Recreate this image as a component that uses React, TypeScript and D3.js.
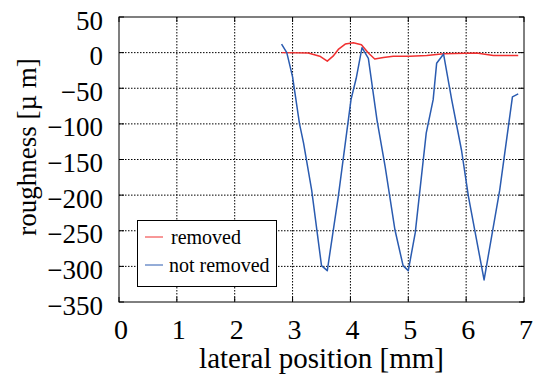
import * as d3 from "d3";

const width = 534
const height = 378
const margin = {top: 17, right: 10, bottom: 76, left: 119}

// lateral position [mm] -> roughness [µm]
const removedX = [2.81, 3.27, 3.47, 3.60, 3.70, 3.79, 3.91, 4.05, 4.19, 4.31, 4.42, 4.57, 4.74, 5.03, 5.32, 5.61, 6.18, 6.47, 6.90]
const removedY = [0, -0.5, -5, -12, -5, 4.5, 12, 14, 11, -0.5, -9, -7, -5, -5, -4, -1.5, -0.5, -4, -4]

const notRemovedX = [2.81, 2.90, 3.0, 3.12, 3.19, 3.33, 3.50, 3.60, 3.79, 4.01, 4.10, 4.20, 4.31, 4.46, 4.60, 4.77, 4.91, 5.00, 5.12, 5.31, 5.43, 5.49, 5.61, 5.75, 5.92, 6.04, 6.31, 6.58, 6.80, 6.90]
const notRemovedY = [12, 0, -34, -100, -127, -193, -299, -306, -202, -66, -36, 7, -8, -95, -160, -249, -299, -306, -253, -113, -66, -15, -2, -66, -137, -202, -319, -193, -62, -58]

const xTicks = [0, 1, 2, 3, 4, 5, 6, 7]
const yTicks = [50, 0, -50, -100, -150, -200, -250, -300, -350]

const series = [
    {name: "removed", color: "#f03030", xs: removedX, ys: removedY},
    {name: "not removed", color: "#2a5bb0", xs: notRemovedX, ys: notRemovedY},
]

const font = "'Liberation Serif', 'Times New Roman', serif"

const App = () => {
    const innerWidth = width - margin.left - margin.right
    const innerHeight = height - margin.top - margin.bottom

    const xScale = d3.scaleLinear([0, 7], [margin.left, margin.left + innerWidth])
    const yScale = d3.scaleLinear([-350, 50], [margin.top + innerHeight, margin.top])

    const line = d3.line<[number, number]>()
        .x(d => xScale(d[0]))
        .y(d => yScale(d[1]))

    const x0 = margin.left, x1 = margin.left + innerWidth
    const y0 = margin.top, y1 = margin.top + innerHeight
    const fmt = (v: number) => (v < 0 ? "\u2212" + Math.abs(v) : String(v))

    return <svg width={width} height={height} style={{position: "absolute", left: 0, top: 0, background: "#fff"}}
                fontFamily={font}>
        {/* сетка */}
        {xTicks.slice(1, -1).map(t =>
            <line key={"gx" + t} x1={xScale(t)} x2={xScale(t)} y1={y0} y2={y1}
                  stroke="#000" strokeWidth={1} strokeDasharray="1.5,1.5"/>)}
        {yTicks.slice(1, -1).map(t =>
            <line key={"gy" + t} x1={x0} x2={x1} y1={yScale(t)} y2={yScale(t)}
                  stroke="#000" strokeWidth={1} strokeDasharray="1.5,1.5"/>)}

        {/* засечки внутрь */}
        {xTicks.map(t => <g key={"tx" + t}>
            <line x1={xScale(t)} x2={xScale(t)} y1={y1} y2={y1 - 5} stroke="#000"/>
            <line x1={xScale(t)} x2={xScale(t)} y1={y0} y2={y0 + 5} stroke="#000"/>
        </g>)}
        {yTicks.map(t => <g key={"ty" + t}>
            <line x1={x0} x2={x0 + 5} y1={yScale(t)} y2={yScale(t)} stroke="#000"/>
            <line x1={x1} x2={x1 - 5} y1={yScale(t)} y2={yScale(t)} stroke="#000"/>
        </g>)}

        {series.map(s =>
            <path key={s.name} d={line(s.xs.map((x, i) => [x, s.ys[i]] as [number, number])) ?? ""}
                  fill="none" stroke={s.color} strokeWidth={1.5} strokeLinejoin="round"/>)}

        <rect x={x0} y={y0} width={innerWidth} height={innerHeight} fill="none" stroke="#000" strokeWidth={1}/>

        {/* подписи осей */}
        {xTicks.map(t =>
            <text key={"lx" + t} x={xScale(t) + 2} y={339} textAnchor="middle" fontSize={28}>{t}</text>)}
        {yTicks.map(t =>
            <text key={"ly" + t} x={103} y={yScale(t) + 12.5} textAnchor="end" fontSize={27}>{fmt(t)}</text>)}

        <text x={(x0 + x1) / 2} y={368} textAnchor="middle" fontSize={29}>lateral position [mm]</text>
        <text transform={`translate(${36},${147}) rotate(-90)`} textAnchor="middle" fontSize={27}>roughness [µ m]</text>

        {/* легенда */}
        <g>
            <rect x={137.5} y={220.5} width={139} height={66} fill="#fff" stroke="#000" strokeWidth={1}/>
            {series.map((s, i) =>
                <g key={"lg" + s.name}>
                    <line x1={145} x2={163} y1={237 + i * 28} y2={237 + i * 28} stroke={s.color} strokeWidth={1}/>
                    <text x={i === 0 ? 171 : 169} y={237 + i * 28 + 7} fontSize={20}>{s.name}</text>
                </g>)}
        </g>
    </svg>
}

export default App
